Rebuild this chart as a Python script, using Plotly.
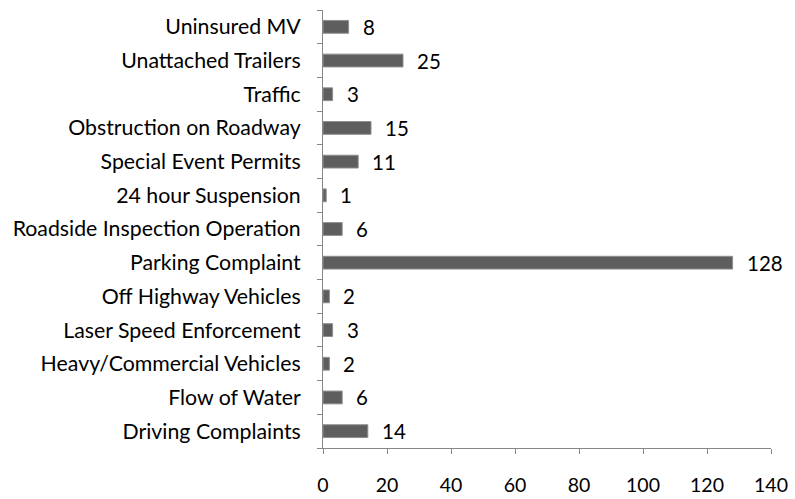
import plotly.graph_objects as go

categories = [
    "Driving Complaints", "Flow of Water", "Heavy/Commercial Vehicles",
    "Laser Speed Enforcement", "Off Highway Vehicles", "Parking Complaint",
    "Roadside Inspection Operation", "24 hour Suspension", "Special Event Permits",
    "Obstruction on Roadway", "Traffic", "Unattached Trailers", "Uninsured MV",
]
counts = [14, 6, 2, 3, 2, 128, 6, 1, 11, 15, 3, 25, 8]
x_ticks = [0, 20, 40, 60, 80, 100, 120, 140]

font_name = "Lato, Open Sans, sans-serif"
axis_grey = "#878787"

fig = go.Figure()
fig.add_trace(go.Bar(
    x=counts, y=categories, orientation="h",
    marker=dict(color="#5e5e5e", line=dict(color="#8f8f8f", width=1)),
    hoverinfo="x+y",
))

# value labels sit a little to the right of each bar
for cat, val in zip(categories, counts):
    fig.add_annotation(x=val, y=cat, text=str(val), showarrow=False,
                       xanchor="left", xshift=12,
                       font=dict(family=font_name, size=20.5, color="#000000"))

fig.update_layout(
    width=795, height=499,
    margin=dict(l=323, r=24, t=10, b=51, autoexpand=False),
    plot_bgcolor="white", paper_bgcolor="white",
    bargap=0.62, showlegend=False,
    font=dict(family=font_name, size=20, color="#000000"),
)
fig.update_xaxes(
    range=[0, 140], tickvals=x_ticks, showgrid=False, zeroline=False,
    showline=True, linecolor=axis_grey, linewidth=1,
    ticks="outside", ticklen=5, tickcolor=axis_grey,
    tickfont=dict(size=19.5), ticklabelstandoff=15,
)
fig.update_yaxes(
    showgrid=False, showline=True, linecolor=axis_grey, linewidth=1,
    ticks="outside", ticklen=5, tickcolor=axis_grey, tickson="boundaries",
    tickfont=dict(size=21.3), ticklabelstandoff=17,
)

fig.write_html("out.html", config={"displayModeBar": False},
               post_script="document.body.style.margin='0';")
